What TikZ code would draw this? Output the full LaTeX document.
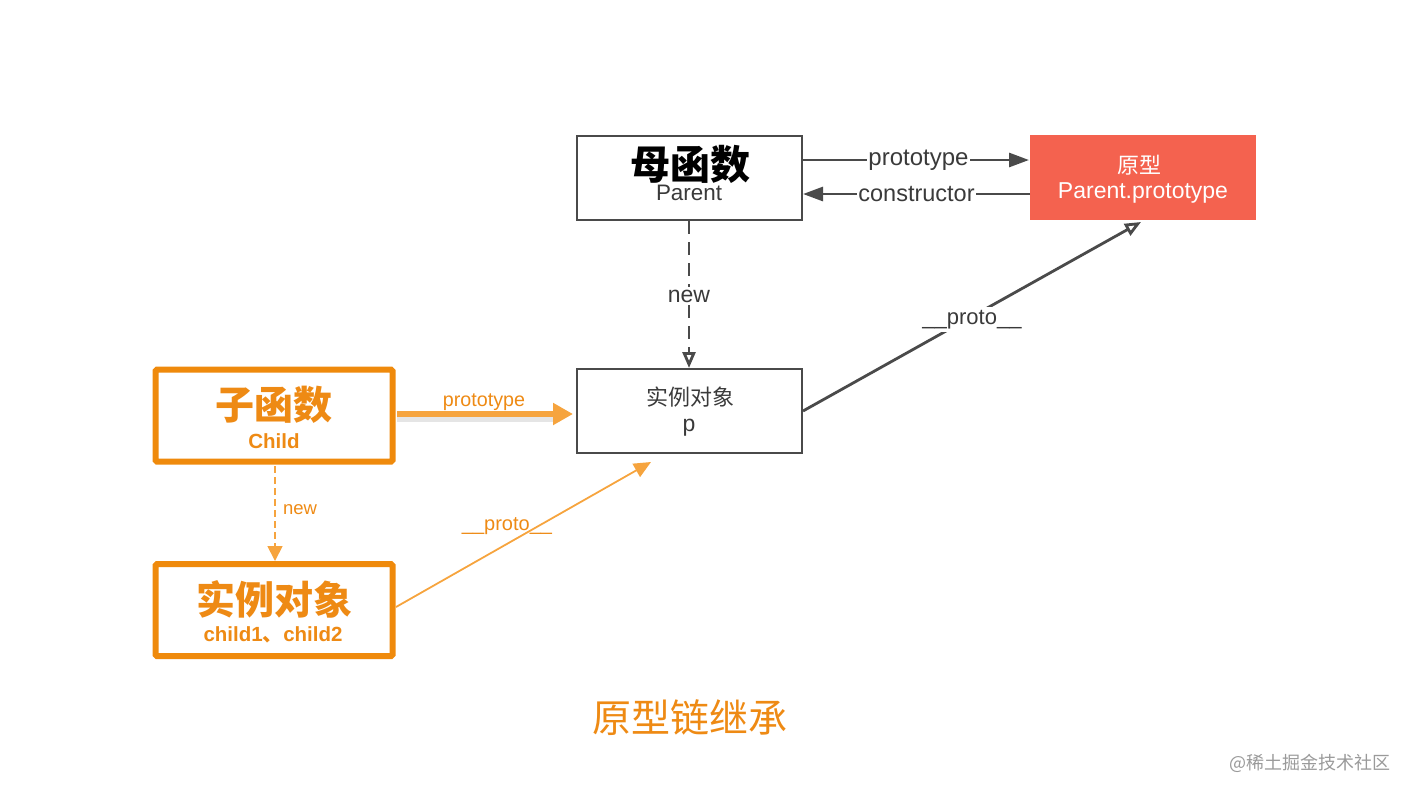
\documentclass[tikz,border=0pt]{standalone}
\usepackage{fontspec}
\setmainfont{Liberation Sans}
\newfontfamily\cjk{Noto Sans CJK SC}
\usetikzlibrary{arrows.meta}
\definecolor{lgray}{HTML}{4A4A4A}
\definecolor{tgray}{HTML}{3A3A3A}
\definecolor{redbox}{HTML}{F4624F}
\definecolor{obox}{HTML}{EF8A0C}
\definecolor{oarrow}{HTML}{F6A43E}
\definecolor{otext}{HTML}{EE8A14}
\definecolor{wm}{HTML}{9A9A9A}
\tikzset{
  graybox/.style={draw=lgray, line width=2.8pt, fill=white, inner sep=0pt, minimum width=225pt, minimum height=84pt},
  redrect/.style={fill=redbox, draw=none, inner sep=0pt, minimum width=226pt, minimum height=85pt},
  orangebox/.style={draw=obox, line width=6pt, fill=white, inner sep=0pt, minimum width=237pt, minimum height=92pt, rounded corners=1.5pt},
  grayline/.style={draw=lgray, line width=2.8pt},
  gtip/.style={-{Triangle[length=20pt,width=14pt]}},
  otip/.style={-{Triangle[open,length=16pt,width=13pt,fill=white]}},
  txt/.style={inner sep=0pt, anchor=center},
  lbl/.style={inner sep=1pt, fill=white, text=tgray, font=\fontsize{23}{25}\selectfont},
}
\begin{document}
\begin{tikzpicture}[x=1pt,y=-1pt]
\useasboundingbox (0,0) rectangle (1412,796);

% gray part
\node[graybox] (parent) at (689.5,178) {};
\node[txt, font=\cjk\bfseries\fontsize{40}{42}\selectfont, text=black] (parentcn) at (690,164) {母函数};
\node[txt, font=\fontsize{22.4}{24}\selectfont, text=tgray] (parenten) at (689,193) {Parent};

\node[redrect] (proto) at (1143,177.5) {};
\node[txt, font=\cjk\fontsize{22}{24}\selectfont, text=white] (protocn) at (1139,165) {原型};
\node[txt, font=\fontsize{23}{25}\selectfont, text=white] (protoen) at (1143,193) {Parent.prototype};

\node[graybox] (p) at (689.5,411) {};
\node[txt, font=\cjk\fontsize{22}{24}\selectfont, text=tgray] (pcn) at (690,397) {实例对象};
\node[txt, font=\fontsize{23}{25}\selectfont, text=tgray] (pen) at (689,428) {p};

\coordinate (a1) at (802,160);
\coordinate (a2) at (1029,160);
\coordinate (b1) at (1030,194);
\coordinate (b2) at (803,194);
\draw[grayline, gtip] (a1) -- (a2) node[lbl, midway, inner sep=1pt, xshift=3pt, font=\fontsize{24}{26}\selectfont] (lproto) {prototype};
\draw[grayline, gtip] (b1) -- (b2) node[lbl, midway, inner sep=1pt, font=\fontsize{23.5}{26}\selectfont] (lcons) {constructor};

\coordinate (n1) at (689,221);
\coordinate (n2) at (689,368);
\draw[grayline, dash pattern=on 13pt off 8pt, otip] (n1) -- (n2) node[lbl, pos=0.51, inner sep=3pt] (lnew) {new};

\coordinate (c1) at (803,411);
\coordinate (c2) at (1141,222);
\draw[grayline, otip] (c1) -- (c2) node[lbl, pos=0.5, inner sep=3pt, yshift=-3pt, font=\fontsize{22}{24}\selectfont] (lp) {\_\_proto\_\_};

% orange part
\node[orangebox] (child) at (274,415.5) {};
\node[txt, font=\cjk\bfseries\fontsize{39}{41}\selectfont, text=otext] (childcn) at (274,405) {子函数};
\node[txt, font=\bfseries\fontsize{20.5}{22}\selectfont, text=otext] (childen) at (274,441) {Child};

\node[orangebox] (inst) at (274,610) {};
\node[txt, font=\cjk\bfseries\fontsize{39}{41}\selectfont, text=otext] (instcn) at (274,599) {实例对象};
\node[txt, font=\bfseries\fontsize{20.5}{22}\selectfont, text=otext] (instenA) at (273,635) {child1{\cjk 、}child2};

\coordinate (o1) at (397,414);
\coordinate (o2) at (573,414);
\draw[line width=6pt, draw=black, opacity=0.10] (397,419) -- (560,419);
\draw[line width=6pt, draw=oarrow, -{Triangle[length=20pt,width=21pt]}] (o1) -- (o2);
\node[txt, font=\fontsize{19.7}{21}\selectfont, text=otext] (lop) at (484,402) {prototype};

\coordinate (d1) at (275,466);
\coordinate (d2) at (275,561);
\draw[draw=oarrow, line width=1.8pt, dash pattern=on 7pt off 4pt, -{Triangle[length=15pt,width=15pt]}] (d1) -- (d2);
\node[txt, font=\fontsize{18.5}{20}\selectfont, text=otext] (lon) at (300,510) {new};

\coordinate (e1) at (396,607);
\coordinate (e2) at (651,462);
\draw[draw=oarrow, line width=1.8pt, -{Triangle[length=17pt,width=15pt]}] (e1) -- (e2);
\node[txt, font=\fontsize{20}{22}\selectfont, text=otext] (lope) at (507,526) {\_\_proto\_\_};

% title and watermark
\node[txt, font=\cjk\fontsize{39}{41}\selectfont, text=otext] (title) at (690,718) {原型链继承};
\node[txt, font=\cjk\fontsize{18}{20}\selectfont, text=wm] (wmark) at (1310,763) {@稀土掘金技术社区};
\end{tikzpicture}
\end{document}
